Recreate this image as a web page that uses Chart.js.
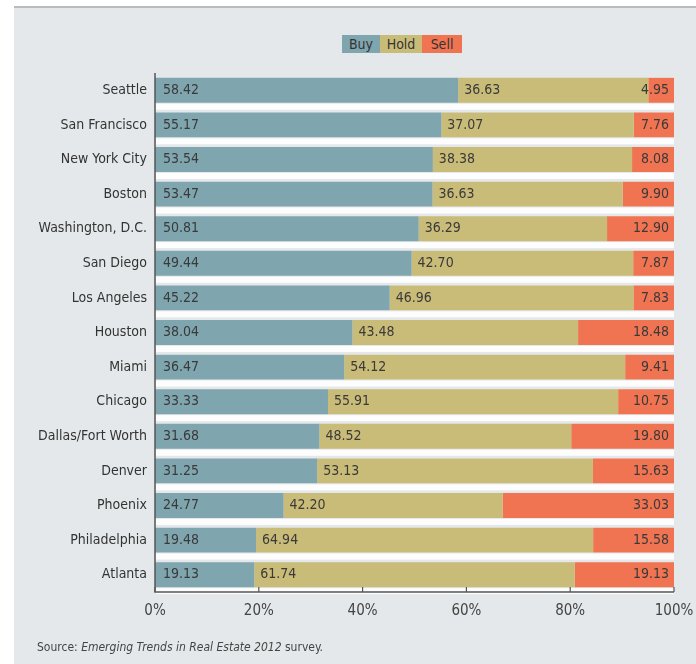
<!DOCTYPE html>
<html><head><meta charset="utf-8">
<script src="https://cdn.jsdelivr.net/npm/chart.js@4/dist/chart.umd.min.js"></script>
<style>
html,body{margin:0;padding:0;background:#fff;}
#wrap{position:relative;width:696px;height:664px;overflow:hidden;}
#panel{position:absolute;left:14px;top:6px;right:0;bottom:0;background:#e5e8ea;border-top:2px solid #b9bcbe;}
#cv{position:absolute;left:0;top:0;}
#legend{position:absolute;left:342px;top:35px;display:flex;font-family:"Liberation Sans Narrow","DejaVu Sans Condensed",sans-serif;font-size:14px;color:#333;}
#legend span{display:block;height:18px;line-height:18px;text-align:center;}
#src{position:absolute;left:37px;top:640px;font-family:"Liberation Sans Narrow","DejaVu Sans Condensed",sans-serif;font-size:12px;color:#444;}
</style></head>
<body><div id="wrap"><div id="panel"></div><canvas id="cv" width="696" height="664"></canvas>
<div id="legend"><span style="width:38px;background:#7fa5ae">Buy</span><span style="width:42px;background:#c9bb78">Hold</span><span style="width:40px;background:#f07352">Sell</span></div>
<div id="src">Source: <i>Emerging Trends in Real Estate 2012</i> survey.</div>
</div>
<script>
const categories = ["Seattle","San Francisco","New York City","Boston","Washington, D.C.","San Diego","Los Angeles","Houston","Miami","Chicago","Dallas/Fort Worth","Denver","Phoenix","Philadelphia","Atlanta"];
const buy  = [58.42,55.17,53.54,53.47,50.81,49.44,45.22,38.04,36.47,33.33,31.68,31.25,24.77,19.48,19.13];
const hold = [36.63,37.07,38.38,36.63,36.29,42.70,46.96,43.48,54.12,55.91,48.52,53.13,42.20,64.94,61.74];
const sell = [4.95,7.76,8.08,9.90,12.90,7.87,7.83,18.48,9.41,10.75,19.80,15.63,33.03,15.58,19.13];
const tickValues = [0,20,40,60,80,100];

const FONT = '"Liberation Sans Narrow","DejaVu Sans Condensed",sans-serif';
const colors = ["#7fa5ae","#c9bb78","#f07352"];

const stripePlugin = {
  id:'stripes',
  beforeDatasetsDraw(chart){
    const ctx = chart.ctx, ca = chart.chartArea;
    const meta = chart.getDatasetMeta(0);
    ctx.save();
    ctx.fillStyle = 'rgba(255,255,255,0.9)';
    meta.data.forEach(el=>{
      const bottom = el.y + el.height/2;
      ctx.fillRect(ca.left+1, bottom+1, ca.right-ca.left-1, 6);
    });
    ctx.restore();
  }
};

const labelPlugin = {
  id:'vlabels',
  afterDatasetsDraw(chart){
    const ctx = chart.ctx;
    ctx.save();
    ctx.font = '14px ' + FONT;
    ctx.fillStyle = '#3a3a3a';
    ctx.textBaseline = 'middle';
    chart.data.datasets.forEach((ds,di)=>{
      const meta = chart.getDatasetMeta(di);
      meta.data.forEach((el,i)=>{
        const txt = ds.data[i].toFixed(2);
        const left = Math.min(el.x, el.base), right = Math.max(el.x, el.base);
        if(di===2){ ctx.textAlign='right'; ctx.fillText(txt, right-5, el.y); }
        else { ctx.textAlign='left'; ctx.fillText(txt, left + (di===0?8:6), el.y); }
      });
    });
    ctx.restore();
  }
};

const axisPlugin = {
  id:'axes',
  afterDatasetsDraw(chart){
    const ctx = chart.ctx, ca = chart.chartArea, xs = chart.scales.x;
    ctx.save();
    ctx.strokeStyle = '#555';
    ctx.lineWidth = 1.5;
    ctx.beginPath();
    ctx.moveTo(ca.left, ca.top);
    ctx.lineTo(ca.left, ca.bottom);
    ctx.lineTo(ca.right, ca.bottom);
    ctx.stroke();
    ctx.lineWidth = 1.2;
    tickValues.forEach(v=>{
      const x = xs.getPixelForValue(v);
      ctx.beginPath(); ctx.moveTo(x, ca.bottom); ctx.lineTo(x, ca.bottom-5); ctx.stroke();
    });
    ctx.restore();
  }
};

new Chart(document.getElementById('cv'), {
  type:'bar',
  data:{
    labels: categories,
    datasets:[
      {label:'Buy', data:buy, backgroundColor:colors[0]},
      {label:'Hold', data:hold, backgroundColor:colors[1]},
      {label:'Sell', data:sell, backgroundColor:colors[2]}
    ]
  },
  options:{
    indexAxis:'y',
    responsive:false,
    animation:false,
    layout:{padding:{top:73,right:22,bottom:32,left:0}},
    datasets:{bar:{categoryPercentage:0.72,barPercentage:1.0,borderWidth:0}},
    plugins:{legend:{display:false},tooltip:{enabled:false}},
    scales:{
      x:{
        stacked:true, min:0, max:100,
        afterBuildTicks(s){ s.ticks = tickValues.map(v=>({value:v})); },
        afterFit(s){ s.height = 40; s.paddingRight = 0; s.paddingLeft = 0; },
        grid:{display:false, drawTicks:false},
        border:{display:false},
        ticks:{padding:10, color:'#444', font:{family:FONT,size:15}, callback:v=>v+'%'}
      },
      y:{
        stacked:true,
        afterFit(s){ s.width = 155; },
        grid:{display:false, drawTicks:false},
        border:{display:false},
        ticks:{padding:8, color:'#333', font:{family:FONT,size:14}}
      }
    }
  },
  plugins:[stripePlugin, labelPlugin, axisPlugin]
});
</script>
</body></html>
